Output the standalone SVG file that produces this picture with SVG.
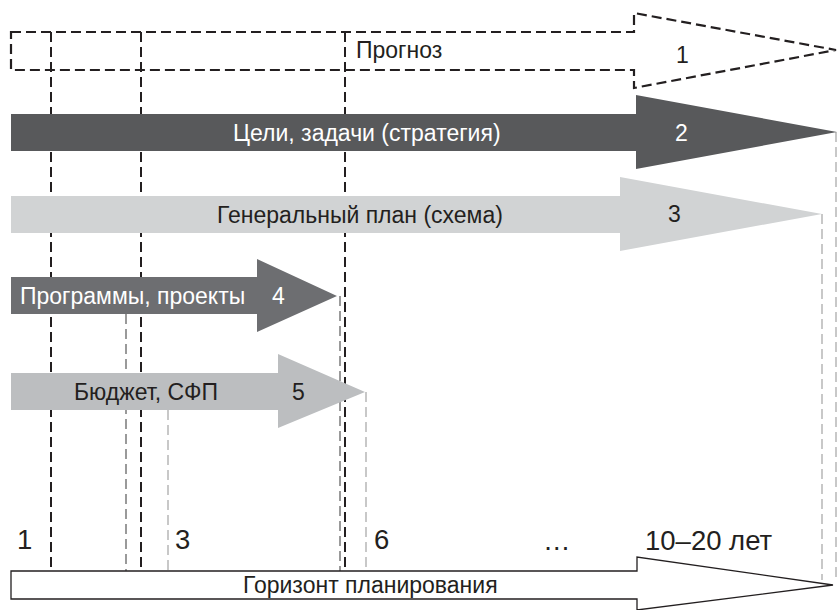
<svg xmlns="http://www.w3.org/2000/svg" width="837" height="610" viewBox="0 0 837 610">
<style>
text{font-family:"Liberation Sans",Arial,sans-serif;font-size:23px;fill:#231f20}
.w{fill:#ffffff}
.big{font-size:27.5px}
.vd{fill:none;stroke:#231f20;stroke-width:2;stroke-dasharray:10 5}
.vm{fill:none;stroke:#9a9a9a;stroke-width:2;stroke-dasharray:10 5}
.vl{fill:none;stroke:#c8c8c8;stroke-width:2;stroke-dasharray:10 5}
</style>
<rect width="837" height="610" fill="#ffffff"/>
<g id="connectors">
<line class="vd" x1="51" y1="32" x2="51" y2="571"/>
<line class="vd" x1="141" y1="32" x2="141" y2="571"/>
<line class="vd" x1="345" y1="32" x2="345" y2="571"/>
<line class="vm" x1="126" y1="314" x2="126" y2="571"/>
<line class="vl" x1="168" y1="410" x2="168" y2="571"/>
<line class="vm" x1="340" y1="296" x2="340" y2="571"/>
<line class="vl" x1="366" y1="392" x2="366" y2="571"/>
<line class="vl" x1="822" y1="214" x2="822" y2="580"/>
<line class="vl" x1="836" y1="132" x2="836" y2="582"/>
</g>
<g id="arrow1">
<path d="M11,32 H634 V13 L836,50 L634,88 V70 H11 Z" fill="none" stroke="#231f20" stroke-width="2.2" stroke-dasharray="10 5"/>
<text x="356" y="58">Прогноз</text>
<text x="676" y="63">1</text>
</g>
<g id="arrow2">
<path d="M11,114 H636 V95 L837,132 L636,169 V151 H11 Z" fill="#58595b"/>
<text class="w" x="233" y="141">Цели, задачи (стратегия)</text>
<text class="w" x="675" y="141">2</text>
</g>
<g id="arrow3">
<path d="M11,196 H620 V177 L822,214 L620,251 V233 H11 Z" fill="#d1d3d4"/>
<text x="217" y="223">Генеральный план (схема)</text>
<text x="668" y="222">3</text>
</g>
<g id="arrow4">
<path d="M11,277 H257 V259 L337,296 L257,332 V314 H11 Z" fill="#6d6e71"/>
<text class="w" x="20" y="304">Программы, проекты</text>
<text class="w" x="272" y="304">4</text>
</g>
<g id="arrow5">
<path d="M11,373 H278 V354 L365,392 L278,428 V410 H11 Z" fill="#bcbec0"/>
<text x="74" y="400">Бюджет, СФП</text>
<text x="292" y="400">5</text>
</g>
<g id="horizon">
<path d="M11,571 H637 V557 L833,585 L637,610 V599 H11 Z" fill="#ffffff" stroke="#231f20" stroke-width="1.3"/>
<text x="243" y="593">Горизонт планирования</text>
</g>
<g id="scale">
<text class="big" x="17" y="549">1</text>
<text class="big" x="175" y="549">3</text>
<text class="big" x="374" y="549">6</text>
<text class="big" x="543" y="550">…</text>
<text class="big" x="645" y="550">10–20 лет</text>
</g>
</svg>
